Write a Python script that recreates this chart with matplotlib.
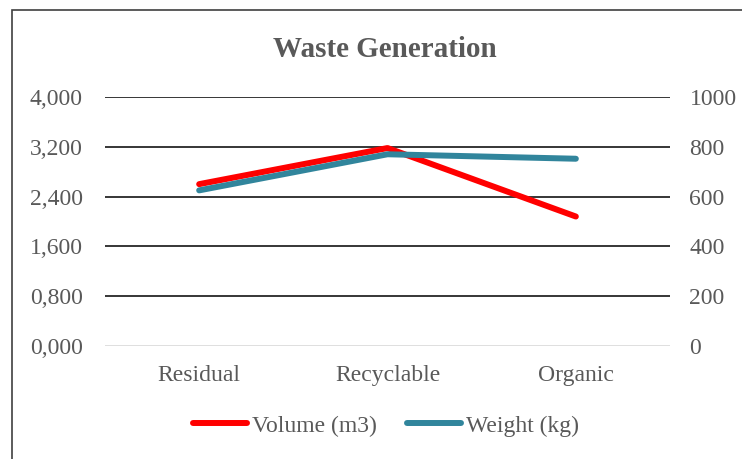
import matplotlib.pyplot as plt
from matplotlib.patches import Rectangle

# data
categories = ['Residual', 'Recyclable', 'Organic']
volume = [2600, 3180, 2080]
weight = [625, 770, 752]
left_ticks = [0, 800, 1600, 2400, 3200, 4000]
left_labels = ['0,000', '0,800', '1,600', '2,400', '3,200', '4,000']
right_ticks = [0, 200, 400, 600, 800, 1000]

plt.rcParams['font.family'] = 'Liberation Serif'
grey = '#595959'

fig = plt.figure(figsize=(7.42, 4.59), dpi=100)
ax = fig.add_axes([0.1415, 0.2462, 0.903 - 0.1415, 0.7887 - 0.2462])
ax2 = ax.twinx()

x = range(len(categories))
l1, = ax.plot(x, volume, color='#FF0000', lw=4.3, solid_capstyle='round',
              label='Volume (m3)', zorder=3)
l2, = ax2.plot(x, weight, color='#31859C', lw=4.3, solid_capstyle='round',
               label='Weight (kg)', zorder=3)

ax.set_xlim(-0.5, 2.5)
ax.set_ylim(0, 4000)
ax2.set_ylim(0, 1000)
ax.set_xticks(list(x))
ax.set_xticklabels(categories, fontsize=17, color=grey)
ax.set_yticks(left_ticks)
ax.set_yticklabels(left_labels, fontsize=17, color=grey)
ax2.set_yticks(right_ticks)
ax2.set_yticklabels([str(t) for t in right_ticks], fontsize=17, color=grey)

ax.tick_params(axis='both', length=0)
ax.tick_params(axis='y', pad=16)
ax.tick_params(axis='x', pad=14)
ax2.tick_params(axis='y', length=0, pad=14)

for a in (ax, ax2):
    for s in a.spines.values():
        s.set_visible(False)

# gridlines
for t in left_ticks[1:]:
    ax.axhline(t, color='black', lw=1.1, zorder=1)
ax.axhline(0, color='#D9D9D9', lw=1.2, zorder=1)

ax2.set_zorder(ax.get_zorder() + 1)
ax2.patch.set_visible(False)

fig.text(0.519, 0.893, 'Waste Generation', ha='center', va='center',
         fontsize=21, weight='bold', color=grey)

fig.legend(handles=[l1, l2], loc='center', bbox_to_anchor=(0.52, 0.072),
           ncol=2, frameon=False, fontsize=17, labelcolor=grey,
           handlelength=2.3, handletextpad=0.2, columnspacing=1.3)

# chart border
fig.patches.append(Rectangle((12 / 742, -0.1), 1.2, 1 - 10 / 459 + 0.1,
                             transform=fig.transFigure, fill=False,
                             edgecolor='#404040', lw=1.2))

fig.savefig('out.png', dpi=100)
